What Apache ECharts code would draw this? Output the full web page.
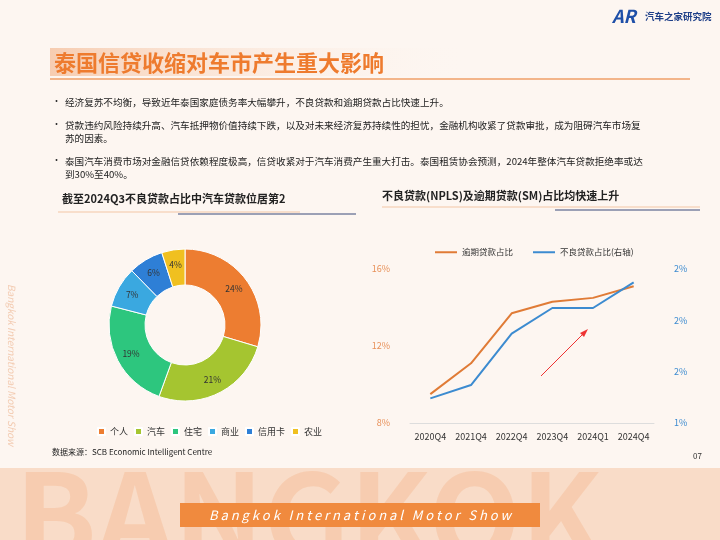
<!DOCTYPE html>
<html><head><meta charset="utf-8">
<script src="https://cdn.jsdelivr.net/npm/echarts@6/dist/echarts.min.js"></script>
<style>html,body{margin:0;padding:0;background:#FDF6F1}#c{width:720px;height:540px}</style>
</head><body><div id="c"></div>
<script>
const pieNames=['个人','汽车','住宅','商业','信用卡','农业'];
const pieValues=[24,21,19,7,6,4];
const pieColors=['#ED7D31','#A5C530','#2DC67E','#3AA8E0','#2E7FD6','#F0C020'];
const quarters=['2020Q4','2021Q4','2022Q4','2023Q4','2024Q1','2024Q4'];
const smShare=[9.5,11.1,13.7,14.3,14.5,15.1];
const nplShare=[1.24,1.37,1.87,2.12,2.12,2.37];
const rightLabels=['1%','2%','2%','2%'];
const F='"Noto Sans CJK SC","Noto Sans",sans-serif';
const chart=echarts.init(document.getElementById('c'));
const bullets=[
 ['经济复苏不均衡，导致近年泰国家庭债务率大幅攀升，不良贷款和逾期贷款占比快速上升。',96],
 ['贷款违约风险持续升高、汽车抵押物价值持续下跌，以及对未来经济复苏持续性的担忧，金融机构收紧了贷款审批，成为阻碍汽车市场复\n苏的因素。',119],
 ['泰国汽车消费市场对金融信贷依赖程度极高，信贷收紧对于汽车消费产生重大打击。泰国租赁协会预测，2024年整体汽车贷款拒绝率或达\n到30%至40%。',155]];
const g=[
 {type:'rect',shape:{x:0,y:468,width:720,height:72},style:{fill:'#F9DCC8'},z:0},
 {type:'text',x:15,y:455,style:{text:'BANGKOK',font:'bold 120px '+F,fill:'rgba(240,150,90,0.22)'},z:0},
 {type:'rect',shape:{x:180,y:503,width:360,height:24},style:{fill:'#F08A3E'},z:1},
 {type:'text',x:360,y:515,style:{text:'B a n g k o k   I n t e r n a t i o n a l   M o t o r   S h o w',font:'italic 13px '+F,fill:'#fff',align:'center',verticalAlign:'middle'},z:2},
 {type:'text',x:12,y:365,rotation:-Math.PI/2,style:{text:'Bangkok International Motor Show',font:'italic 10px '+F,fill:'rgba(230,150,100,0.45)',align:'center',verticalAlign:'middle'}},
 {type:'rect',shape:{x:50,y:48,width:420,height:28},style:{fill:new echarts.graphic.LinearGradient(0,0,1,0,[{offset:0,color:'rgba(246,200,170,0.9)'},{offset:1,color:'rgba(253,246,241,0)'}])},z:0},
 {type:'text',x:54,y:63,style:{text:'泰国信贷收缩对车市产生重大影响',font:'bold 22px '+F,fill:'#EE7B2E',verticalAlign:'middle'},z:2},
 {type:'rect',shape:{x:50,y:78,width:640,height:2},style:{fill:'#F3B58A'}},
 {type:'text',x:612,y:7,style:{text:'AR',font:'bold italic 18px '+F,fill:'#1E4FA8'}},
 {type:'text',x:645,y:12,style:{text:'汽车之家研究院',font:'bold 9.5px '+F,fill:'#1E3F88'}},
 {type:'text',x:62,y:193,style:{text:'截至2024Q3不良贷款占比中汽车贷款位居第2',font:'bold 11px '+F,fill:'#222'}},
 {type:'line',shape:{x1:58,y1:212,x2:300,y2:212},style:{stroke:'#F3C6A5',lineWidth:1}},
 {type:'line',shape:{x1:178,y1:214,x2:356,y2:214},style:{stroke:'#3A4A7A',lineWidth:1}},
 {type:'text',x:382,y:190,style:{text:'不良贷款(NPLS)及逾期贷款(SM)占比均快速上升',font:'bold 11px '+F,fill:'#222'}},
 {type:'line',shape:{x1:382,y1:207,x2:700,y2:207},style:{stroke:'#F3C6A5',lineWidth:1}},
 {type:'line',shape:{x1:555,y1:210,x2:700,y2:210},style:{stroke:'#3A4A7A',lineWidth:1}},
 {type:'line',shape:{x1:541,y1:376,x2:585,y2:332},style:{stroke:'#E33',lineWidth:1}},
 {type:'polygon',shape:{points:[[588,329],[580,333],[584,337]]},style:{fill:'#E33'}},
 {type:'text',x:52,y:448,style:{text:'数据来源：SCB Economic Intelligent Centre',font:'8px '+F,fill:'#222'}},
 {type:'text',x:693,y:452,style:{text:'07',font:'8px '+F,fill:'#333'}}
];
bullets.forEach(b=>{
 g.push({type:'text',x:52,y:b[1],style:{text:'•',font:'9px '+F,fill:'#333'}});
 g.push({type:'text',x:65,y:b[1],style:{text:b[0],font:'9.6px '+F,fill:'#222',lineHeight:13}});
});
chart.setOption({
 backgroundColor:'#FDF6F1',
 textStyle:{fontFamily:F},
 graphic:g,
 legend:[{data:pieNames,left:92,top:422,itemWidth:7,itemHeight:7,itemGap:6,icon:'rect',textStyle:{fontSize:9,color:'#333'}},
  {data:['逾期贷款占比','不良贷款占比(右轴)'],left:430,top:243,itemWidth:22,itemHeight:2,icon:'rect',itemGap:20,textStyle:{fontSize:8.5,color:'#333'}}],
 grid:{left:410,right:66,top:269,bottom:117},
 xAxis:{type:'category',data:quarters,axisLine:{lineStyle:{color:'#ddd'}},axisTick:{show:false},axisLabel:{interval:0,fontSize:9,color:'#333',margin:9}},
 yAxis:[{type:'value',min:8,max:16,interval:4,splitLine:{show:false},axisLabel:{formatter:'{value}%',color:'#E8915A',fontSize:9,margin:20}},
  {type:'value',min:1,max:2.5,interval:0.5,splitLine:{show:false},axisLabel:{formatter:(v)=>rightLabels[Math.round((v-1)/0.5)],color:'#3C8BD0',fontSize:9,margin:20}}],
 series:[
  {type:'pie',name:'p',radius:[40,76],center:[185,325],startAngle:90,data:pieNames.map((n,i)=>({name:n,value:pieValues[i],itemStyle:{color:pieColors[i]}})),
   itemStyle:{borderColor:'#fff',borderWidth:1},
   label:{position:'inside',formatter:'{c}%',fontSize:8.5,color:'#333'},labelLine:{show:false}},
  {type:'line',name:'逾期贷款占比',data:smShare,yAxisIndex:0,color:'#E07B36',lineStyle:{width:2},symbol:'none'},
  {type:'line',name:'不良贷款占比(右轴)',data:nplShare,yAxisIndex:1,color:'#3C8BD0',lineStyle:{width:2},symbol:'none'}
 ]
});
</script></body></html>
